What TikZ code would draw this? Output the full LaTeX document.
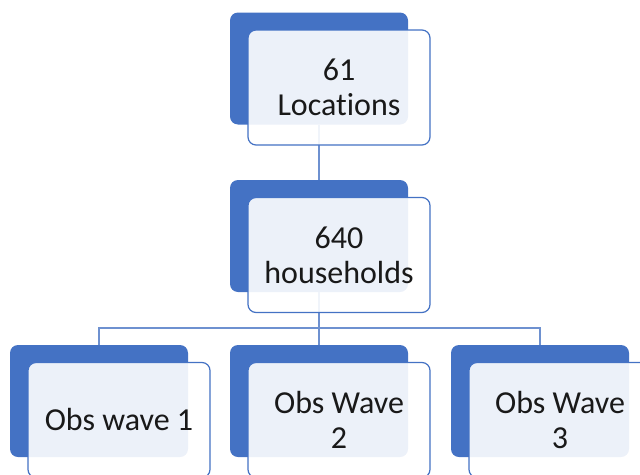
\documentclass[tikz,border=0pt]{standalone}
\usepackage{fontspec}
\setmainfont{Carlito}[Ligatures=NoCommon]
\definecolor{boxblue}{RGB}{68,114,196}
\definecolor{lineblue}{RGB}{110,145,208}

\begin{document}
\begin{tikzpicture} [
    x = 1pt, y = -1pt,
    backbox/.style = {draw = none, fill = boxblue, rounded corners = 8pt,
        minimum width = 178pt, minimum height = 112pt, inner sep = 0pt},
    frontbox/.style = {draw = boxblue, line width = 1.2pt, fill = white, fill opacity = 0.9,
        text opacity = 1, rounded corners = 8pt, minimum width = 182pt, minimum height = 115pt,
        inner sep = 0pt, align = center, font = \fontsize{32}{35}\selectfont,
        text = black!90, xshift = 20pt, yshift = -19pt},
    link/.style = {draw = lineblue, line width = 1.3pt}
]
\useasboundingbox (0,0) rectangle (640,474);
\clip (0,0) rectangle (640,474);

% back boxes
\node (loc-back) at (319, 68.5) [backbox] {};
\node (hh-back) at (319, 236) [backbox] {};
\node (w1-back) at (99, 401) [backbox] {};
\node (w2-back) at (319, 401) [backbox] {};
\node (w3-back) at (540, 401) [backbox] {};

% connectors
\coordinate (bar) at (0, 328);
\draw [link] (loc-back.south) -- (hh-back.north);
\draw [link] (hh-back.south) -- (w2-back.north);
\draw [link] (hh-back.south |- bar) -| (w1-back.north);
\draw [link] (hh-back.south |- bar) -| (w3-back.north);

% front boxes
\node (loc) at (loc-back) [frontbox] {61\\Locations};
\node (hh) at (hh-back) [frontbox] {640\\households};
\node (w1) at (w1-back) [frontbox] {Obs wave 1};
\node (w2) at (w2-back) [frontbox] {Obs Wave\\2};
\node (w3) at (w3-back) [frontbox] {Obs Wave\\3};

\end{tikzpicture}
\end{document}
